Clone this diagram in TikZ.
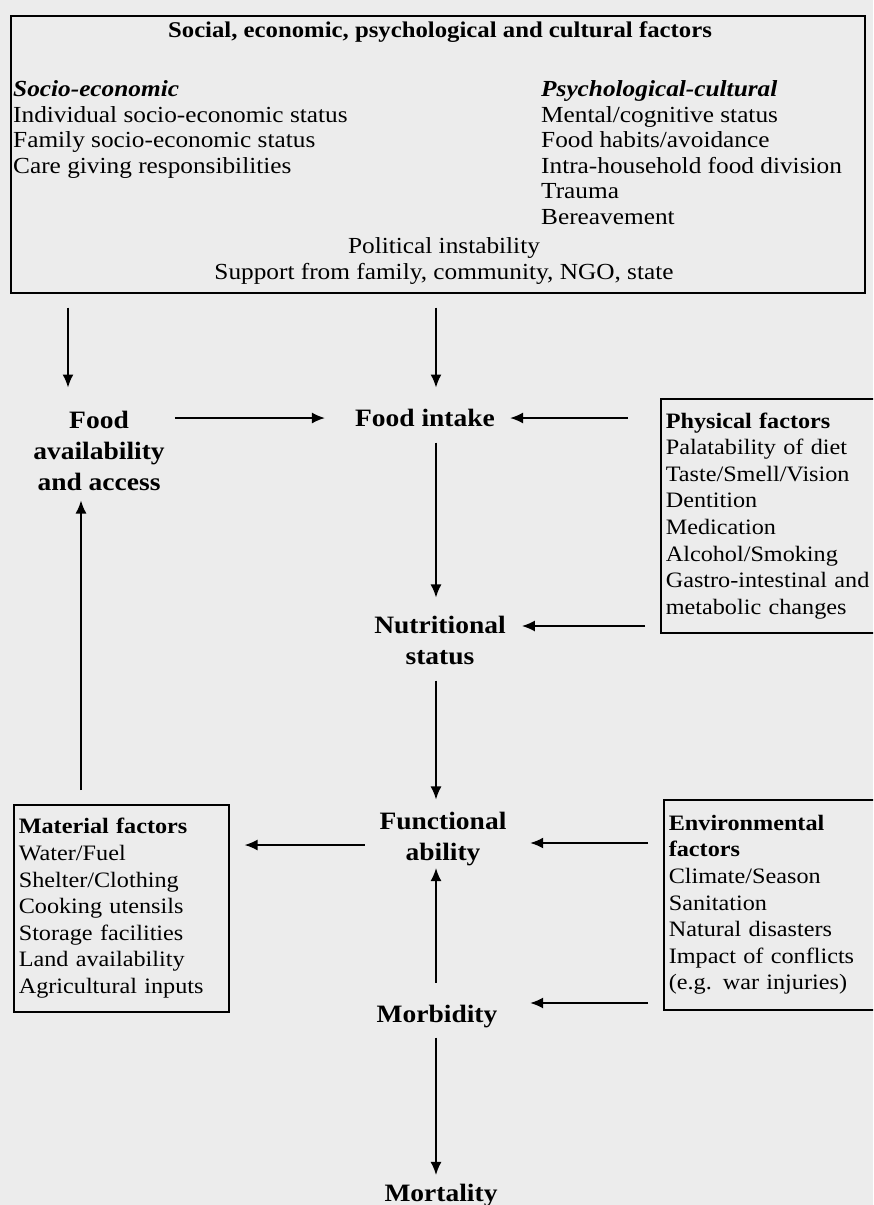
\documentclass[tikz,border=0pt]{standalone}
\usepackage{fontspec}
\setmainfont[FakeStretch=1.1]{Liberation Serif}
\usetikzlibrary{arrows.meta,positioning,calc}
\definecolor{paper}{RGB}{236,236,236}

\begin{document}
\begin{tikzpicture}[x=1pt,y=-1pt]
  \tikzset{mainlabel/.style={font=\fontsize{25}{31}\selectfont\bfseries,
      align=center, inner sep=2pt},
    factorbox/.style={draw, line width=1.6pt, anchor=north west, align=left,
      font=\fontsize{22}{26.6}\selectfont, inner xsep=5pt, inner ysep=0pt},
    coltext/.style={anchor=north west, align=left, inner sep=0pt,
      font=\fontsize{23}{25.6}\selectfont},
    flow/.style={-{Latex[length=13pt,width=11pt]}, line width=1.6pt}
  }
  \fill[paper] (0,0) rectangle (873,1205);
  \clip (0,0) rectangle (873,1205);

  % social, economic, psychological and cultural factors
  \node[draw, line width=1.6pt, anchor=north west, minimum width=854pt,
    minimum height=277pt, inner sep=0pt] (social) at (10,15) {};
  \node[font=\fontsize{22.5}{27}\selectfont\bfseries, inner sep=0pt] (title) at (440,32)
    {Social, economic, psychological and cultural factors};
  \node[coltext] (socio) at (13,80.4) {\textbf{\textit{Socio-economic}}\\
    Individual socio-economic status\\Family socio-economic status\\
    Care giving responsibilities};
  \node[coltext] (psych) at (541,80.4) {\textbf{\textit{Psychological-cultural}}\\
    Mental/cognitive status\\Food habits/avoidance\\Intra-household food division\\
    Trauma\\Bereavement};
  \node[coltext, anchor=north, align=center] (political) at (444,237.4)
    {Political instability\\Support from family, community, NGO, state};

  % main chain
  \node[mainlabel] (foodacc) at (99,451) {Food\\availability\\and access};
  \node[mainlabel] (intake) at (425,418) {Food intake};
  \node[mainlabel] (nutr) at (440,640.5) {Nutritional\\status};
  \node[mainlabel] (func) at (443,839) {Functional\\ability};
  \node[mainlabel] (morb) at (437,1017) {Morbidity};
  \node[mainlabel] (mort) at (441,1196) {Mortality};

  % side boxes
  \node[factorbox, text width=250pt, minimum height=234pt] (phys) at (660,398)
    {\textbf{Physical factors}\\Palatability of diet\\Taste/Smell/Vision\\Dentition\\
    Medication\\Alcohol/Smoking\\Gastro-intestinal and\\metabolic changes};
  \node[factorbox, text width=205pt, minimum height=207pt] (material) at (13,804)
    {\textbf{Material factors}\\Water/Fuel\\Shelter/Clothing\\Cooking utensils\\
    Storage facilities\\Land availability\\Agricultural inputs};
  \node[factorbox, text width=240pt, minimum height=210pt] (env) at (663,799)
    {\textbf{Environmental}\\\textbf{factors}\\Climate/Season\\Sanitation\\
    Natural disasters\\Impact of conflicts\\(e.g. war injuries)};

  \coordinate (spine) at (436,0);
  \coordinate (availx) at (68,0);
  \coordinate (returnx) at (81,0);
  \coordinate (nutrin) at ([yshift=14.5pt]nutr.east);
  \coordinate (funcout) at ([yshift=-6pt]func.west);
  \coordinate (funcin) at ([yshift=-4pt]func.east);
  \coordinate (morbin) at ([yshift=14pt]morb.east);

  % connectors
  \draw[flow, shorten <=14pt, shorten >=21.5pt] (social.south -| availx) -- (foodacc.north -| availx);
  \draw[flow, shorten <=14pt, shorten >=19.5pt] (social.south -| spine) -- (intake.north -| spine);
  \draw[flow, shorten <=8pt, shorten >=28pt] (foodacc.east |- intake.west) -- (intake.west);
  \draw[flow, shorten <=32pt, shorten >=13pt] (phys.west |- intake.east) -- (intake.east);
  \draw[flow, shorten <=13.5pt, shorten >=16.5pt] (intake.south -| spine) -- (nutr.north -| spine);
  \draw[flow, shorten <=15pt, shorten >=14pt] (phys.west |- nutrin) -- (nutrin);
  \draw[flow, shorten <=13.5pt, shorten >=10.5pt] (nutr.south -| spine) -- (func.north -| spine);
  \draw[flow, shorten <=12.6pt, shorten >=15pt] (funcout) -- (funcout -| material.east);
  \draw[flow, shorten <=15pt, shorten >=21.6pt] (funcin -| env.west) -- (funcin);
  \draw[flow, shorten <=15pt, shorten >=30.6pt] (morbin -| env.west) -- (morbin);
  \draw[flow, shorten <=20.5pt] (morb.north -| spine) -- (func.south -| spine);
  \draw[flow, shorten <=7pt, shorten >=7.5pt] (morb.south -| spine) -- (mort.north -| spine);
  \draw[flow, shorten <=14pt, shorten >=7.5pt] (material.north -| returnx) -- (foodacc.south -| returnx);
\end{tikzpicture}
\end{document}
